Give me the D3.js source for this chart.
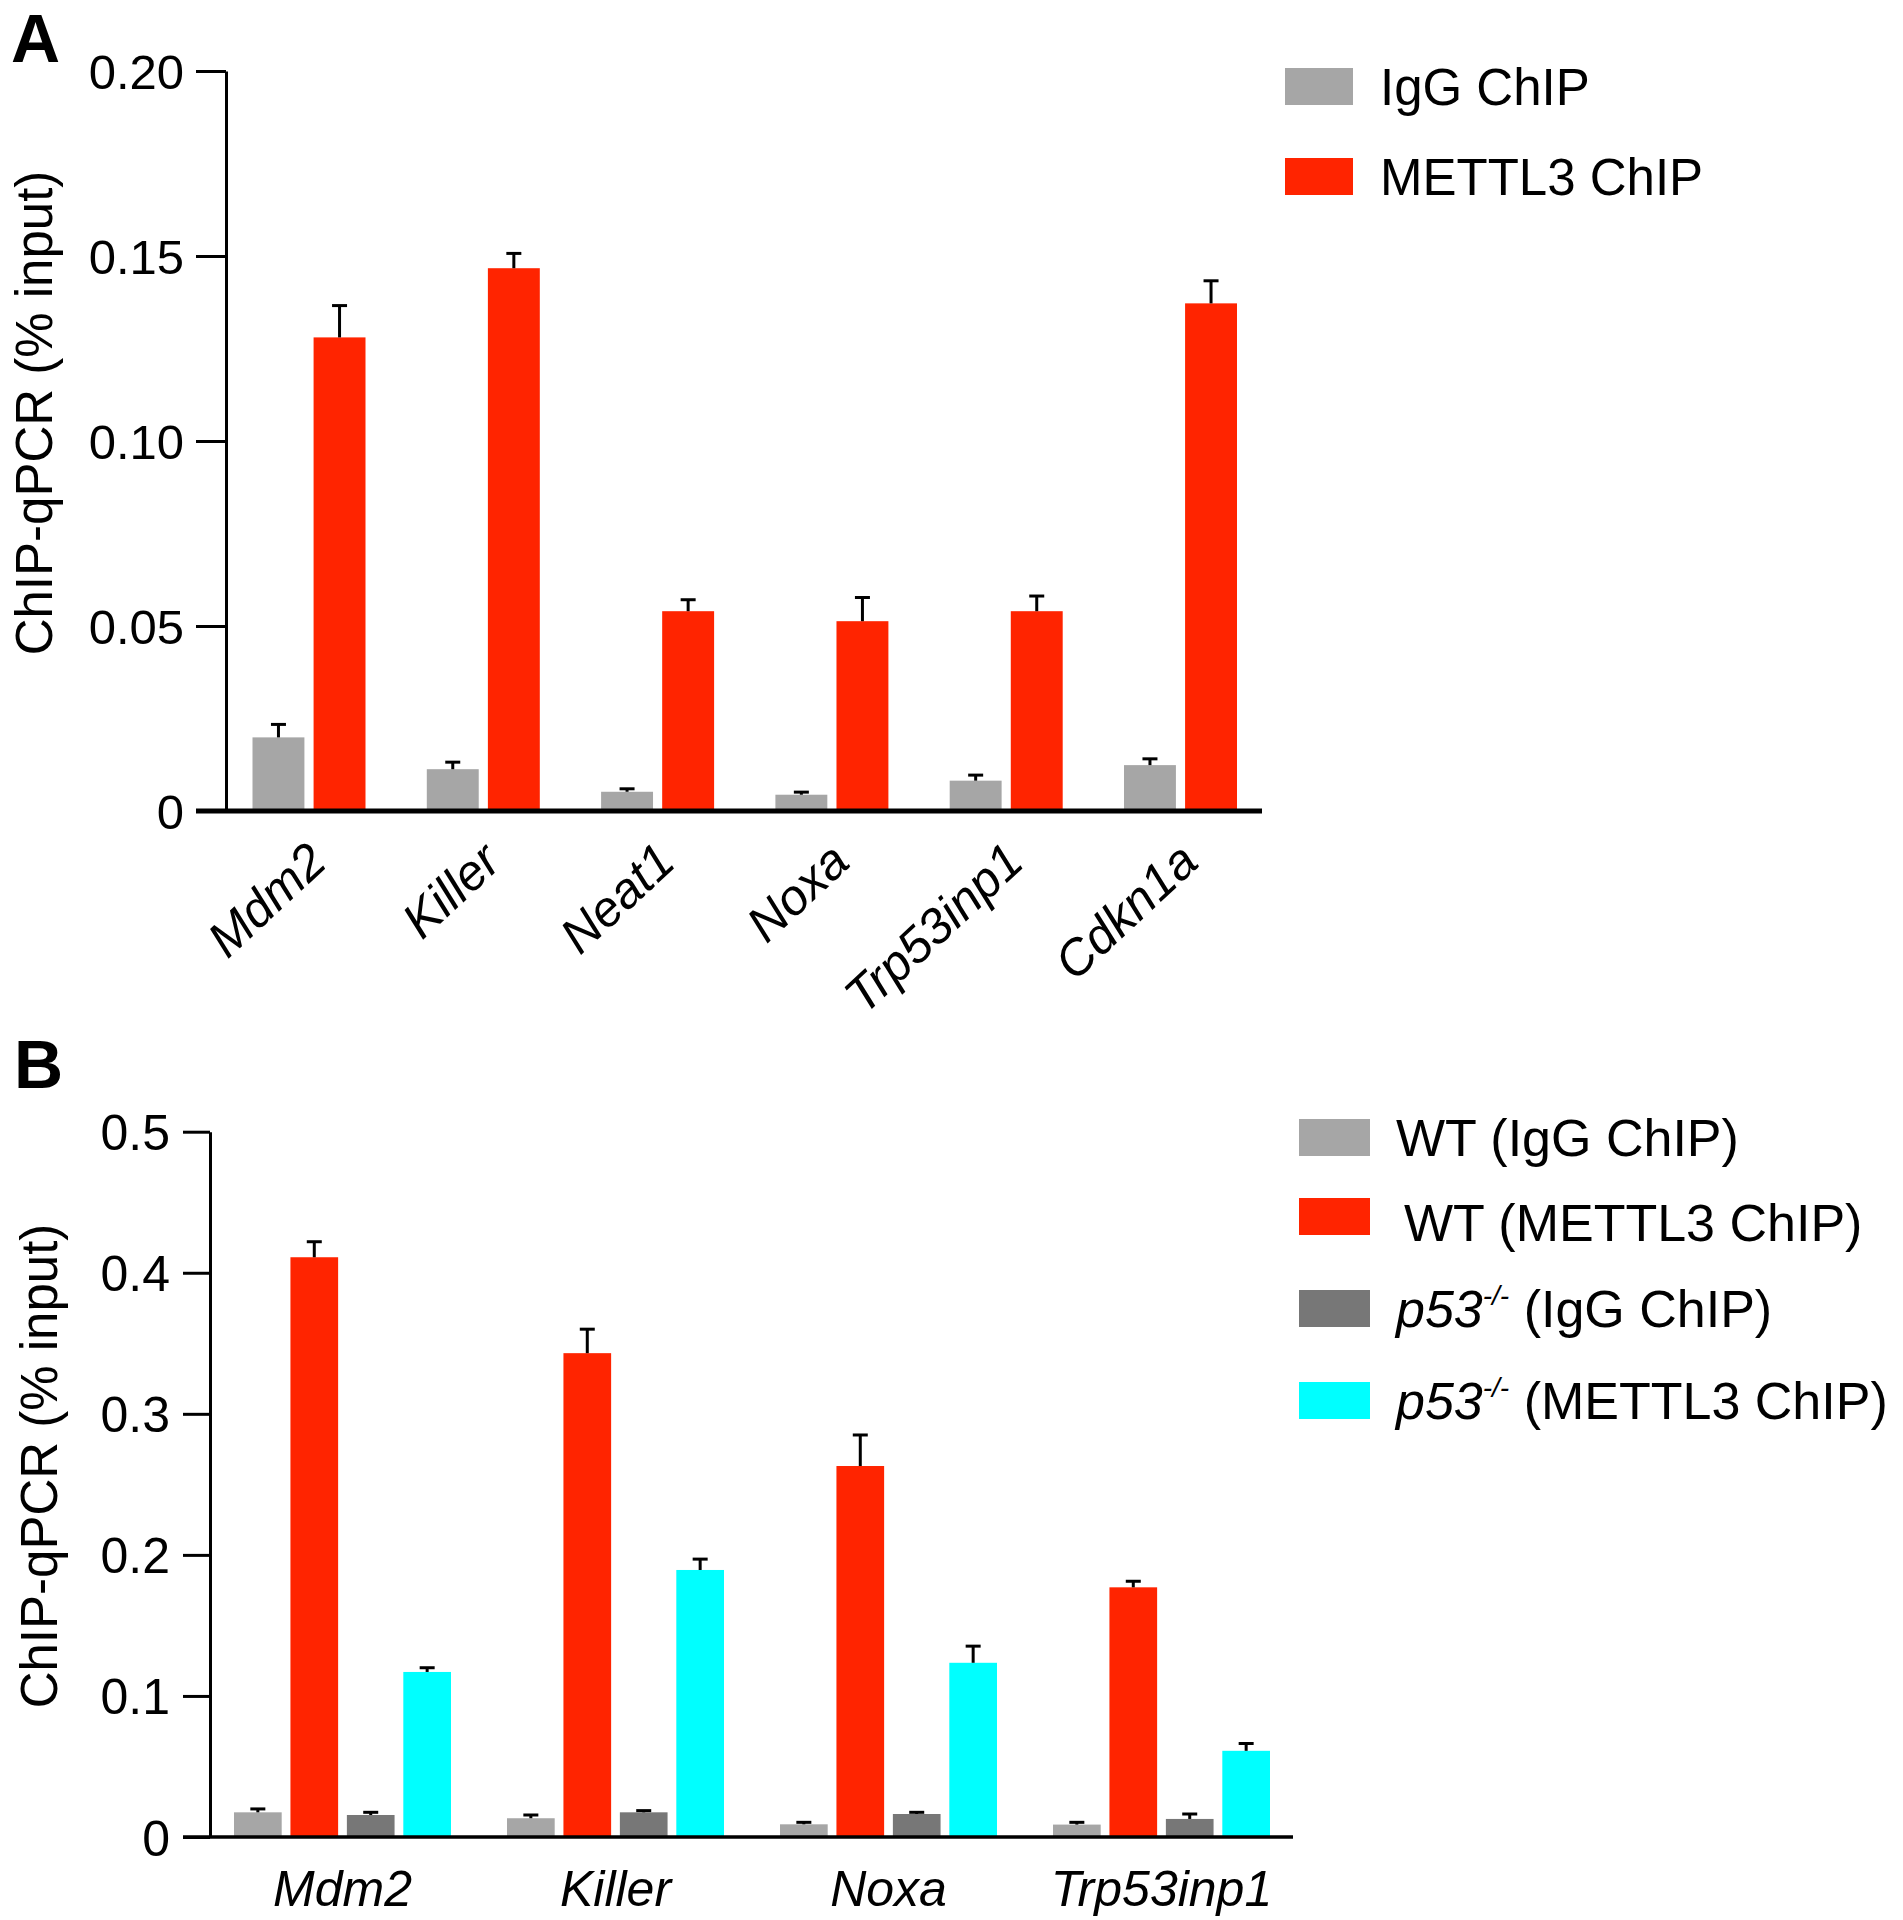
<!DOCTYPE html>
<html><head><meta charset="utf-8">
<script src="https://cdn.jsdelivr.net/npm/d3@7"></script>
<style>
body{margin:0;background:#fff}
svg{display:block}
text{font-family:"Liberation Sans",Arial,Helvetica,sans-serif;fill:#000}
</style>
</head><body>
<svg id="c" width="1903" height="1920"></svg>
<script>
// ---------- Panel A data ----------
const genesA = ["Mdm2", "Killer", "Neat1", "Noxa", "Trp53inp1", "Cdkn1a"];
const seriesA = ["IgG ChIP", "METTL3 ChIP"];
const iggA = [0.0199, 0.0113, 0.0052, 0.0044, 0.0082, 0.0124];
const iggErrA = [0.0035, 0.0019, 0.0008, 0.0007, 0.0015, 0.0017];
const mettl3A = [0.128, 0.1467, 0.054, 0.0513, 0.054, 0.1372];
const mettl3ErrA = [0.0086, 0.0040, 0.0031, 0.0064, 0.0041, 0.0061];
const tickValuesA = [0, 0.05, 0.10, 0.15, 0.20];
const tickLabelsA = ["0", "0.05", "0.10", "0.15", "0.20"];

// ---------- Panel B data ----------
const genesB = ["Mdm2", "Killer", "Noxa", "Trp53inp1"];
const seriesBGenotype = ["WT", "WT", "p53", "p53"];
const seriesBAntibody = ["IgG ChIP", "METTL3 ChIP", "IgG ChIP", "METTL3 ChIP"];
const wtIggB = [0.0175, 0.0133, 0.0090, 0.0088];
const wtIggErrB = [0.0024, 0.0023, 0.0014, 0.0016];
const wtMettl3B = [0.411, 0.343, 0.263, 0.177];
const wtMettl3ErrB = [0.011, 0.017, 0.022, 0.0043];
const koIggB = [0.0156, 0.0175, 0.0163, 0.0128];
const koIggErrB = [0.0019, 0.0012, 0.0012, 0.0035];
const koMettl3B = [0.117, 0.1893, 0.1235, 0.0611];
const koMettl3ErrB = [0.0030, 0.0077, 0.0118, 0.0052];
const tickValuesB = [0, 0.1, 0.2, 0.3, 0.4, 0.5];
const tickLabelsB = ["0", "0.1", "0.2", "0.3", "0.4", "0.5"];

const colorsA = ["#a6a6a6", "#ff2400"];
const colorsB = ["#a6a6a6", "#ff2400", "#777777", "#00ffff"];

const svg = d3.select("#c");

function drawPanel(opt) {
  const g = svg.append("g");
  const y = d3.scaleLinear().domain(opt.domain).range(opt.yRange);
  const x0 = d3.scaleBand().domain(opt.genes).range(opt.xRange).padding(0);
  const x1 = d3.scaleBand().domain(d3.range(opt.series.length))
    .range([-opt.groupSpan / 2, opt.groupSpan / 2]).paddingInner(opt.innerPad);

  // bars
  opt.series.forEach((s, si) => {
    const vals = opt.values[si], errs = opt.errors[si];
    const sg = g.append("g");
    sg.selectAll("rect").data(opt.genes).join("rect")
      .attr("x", (d) => x0(d) + x0.bandwidth() / 2 + x1(si))
      .attr("width", x1.bandwidth())
      .attr("y", (d, i) => y(vals[i]))
      .attr("height", (d, i) => y(0) - y(vals[i]))
      .attr("fill", opt.colors[si]);
    // error bars (upper)
    const eg = g.append("g").attr("stroke", "#000").attr("stroke-width", opt.errW);
    opt.genes.forEach((gene, i) => {
      const cx = x0(gene) + x0.bandwidth() / 2 + x1(si) + x1.bandwidth() / 2;
      const yt = y(vals[i] + errs[i]);
      eg.append("line").attr("x1", cx).attr("x2", cx).attr("y1", y(vals[i])).attr("y2", yt);
      eg.append("line").attr("x1", cx - opt.capW / 2).attr("x2", cx + opt.capW / 2).attr("y1", yt).attr("y2", yt);
    });
  });

  // y axis
  const ax = d3.axisLeft(y).tickValues(opt.ticks)
    .tickFormat((d, i) => opt.tickLabels[i])
    .tickSize(opt.tickLen).tickSizeOuter(0).tickPadding(opt.tickPad);
  const ag = g.append("g").attr("transform", `translate(${opt.axisX},0)`).call(ax);
  ag.select(".domain").attr("stroke", "#000").attr("stroke-width", opt.axisW);
  ag.selectAll(".tick line").attr("stroke", "#000").attr("stroke-width", opt.axisW);
  ag.selectAll(".tick text").attr("font-size", opt.tickFont).attr("dy", "0.36em")
    .style("font-family", '"Liberation Sans",Arial,sans-serif').attr("fill", "#000");

  // baseline
  g.append("line").attr("x1", opt.axisX - opt.tickLen).attr("x2", opt.baseEnd)
    .attr("y1", y(0)).attr("y2", y(0)).attr("stroke", "#000").attr("stroke-width", opt.baseW);

  // y label
  g.append("text").attr("transform", `translate(${opt.yLabelX},${opt.yLabelY}) rotate(-90)`)
    .attr("text-anchor", "middle").attr("font-size", 51).text("ChIP-qPCR (% input)");

  // panel letter
  g.append("text").attr("x", opt.letterX).attr("y", opt.letterY).attr("font-size", 68)
    .attr("font-weight", "bold").text(opt.letter);

  return {g, x0, y};
}

// ---------- Panel A ----------
const A = drawPanel({
  genes: genesA, series: seriesA, values: [iggA, mettl3A], errors: [iggErrA, mettl3ErrA],
  colors: colorsA, domain: [0, 0.2], yRange: [811, 71], xRange: [221.85, 1267.65],
  groupSpan: 113, innerPad: 0.15, ticks: tickValuesA, tickLabels: tickLabelsA,
  axisX: 226, tickLen: 30, tickPad: 12, tickFont: 49, axisW: 3, baseW: 5, baseEnd: 1262,
  errW: 3, capW: 15, yLabelX: 52, yLabelY: 413, letter: "A", letterX: 11, letterY: 62
});
A.g.append("g").selectAll("text").data(genesA).join("text")
  .attr("transform", (d) => `translate(${A.x0(d) + A.x0.bandwidth() / 2 + 20},865) rotate(-43)`)
  .attr("text-anchor", "end").attr("font-size", 50).attr("font-style", "italic")
  .text((d) => d);

// legend A
const legA = svg.append("g");
seriesA.forEach((s, i) => {
  const yb = 105 + i * 90;
  legA.append("rect").attr("x", 1285).attr("y", yb - 37).attr("width", 68).attr("height", 37)
    .attr("fill", colorsA[i]);
  legA.append("text").attr("x", 1380).attr("y", yb).attr("font-size", 51).text(s);
});

// ---------- Panel B ----------
const B = drawPanel({
  genes: genesB, series: seriesBAntibody,
  values: [wtIggB, wtMettl3B, koIggB, koMettl3B],
  errors: [wtIggErrB, wtMettl3ErrB, koIggErrB, koMettl3ErrB],
  colors: colorsB, domain: [0, 0.5], yRange: [1837, 1131.7], xRange: [206, 1298],
  groupSpan: 217, innerPad: 0.155, ticks: tickValuesB, tickLabels: tickLabelsB,
  axisX: 210, tickLen: 27, tickPad: 13, tickFont: 50, axisW: 3, baseW: 3.5, baseEnd: 1293,
  errW: 3, capW: 15, yLabelX: 57, yLabelY: 1466, letter: "B", letterX: 14, letterY: 1088
});
B.g.append("g").selectAll("text").data(genesB).join("text")
  .attr("x", (d) => B.x0(d) + B.x0.bandwidth() / 2).attr("y", 1906)
  .attr("text-anchor", "middle").attr("font-size", 50).attr("font-style", "italic")
  .text((d) => d);

// legend B
const legB = svg.append("g");
const legBY = [1156, 1235, 1327, 1419];
seriesBAntibody.forEach((ab, i) => {
  legB.append("rect").attr("x", 1299).attr("y", legBY[i] - 37).attr("width", 71).attr("height", 37)
    .attr("fill", colorsB[i]);
  const t = legB.append("text").attr("x", i === 1 ? 1404 : 1396).attr("y", legBY[i] + (i === 1 ? 6 : 0))
    .attr("font-size", 52);
  if (seriesBGenotype[i] === "WT") {
    t.append("tspan").text("WT (" + ab + ")");
  } else {
    t.append("tspan").attr("font-style", "italic").text(seriesBGenotype[i]);
    t.append("tspan").attr("font-style", "italic").attr("font-size", 28).attr("dy", -22).text("-/-");
    t.append("tspan").attr("dy", 22).text(" (" + ab + ")");
  }
});
</script>
</body></html>
